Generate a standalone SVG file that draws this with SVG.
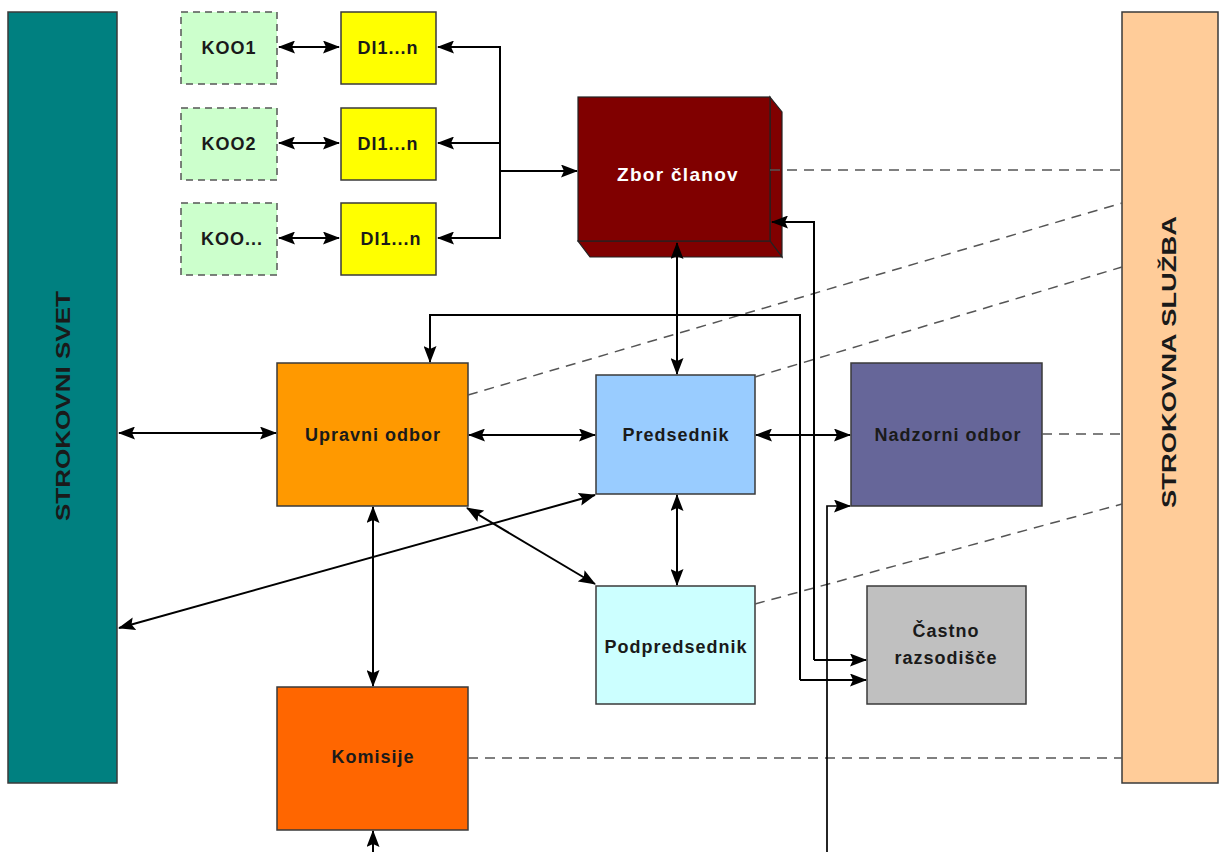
<svg xmlns="http://www.w3.org/2000/svg" width="1224" height="852" viewBox="0 0 1224 852">
<defs>
<marker id="ah" viewBox="0 0 17 13" refX="16" refY="6.5" markerWidth="17" markerHeight="13" orient="auto-start-reverse" markerUnits="userSpaceOnUse"><path d="M0,0 L17,6.5 L0,13 L3,6.5 z" fill="#000"/></marker>
</defs>
<style>
.node{stroke:#3a3a3a;stroke-width:1.5}
.lbl{font-family:"Liberation Sans",Arial,sans-serif;font-weight:bold;font-size:18px;letter-spacing:1px;fill:#1a1a1a;text-anchor:middle;dominant-baseline:central}
.vlbl{font-family:"Liberation Sans",Arial,sans-serif;font-weight:bold;font-size:21px;fill:#1a1a1a;text-anchor:middle;dominant-baseline:central}
.c{fill:none;stroke:#000;stroke-width:2}
.bi{marker-start:url(#ah);marker-end:url(#ah)}
.one{marker-end:url(#ah)}
.d{fill:none;stroke:#555;stroke-width:1.5;stroke-dasharray:10,7}
</style>
<rect width="1224" height="852" fill="#fff"/>
<g id="strokovni-svet"><rect class="node" x="8" y="12" width="109" height="771" fill="#008080"/><text class="vlbl" transform="translate(62,406) rotate(-90)" textLength="230" lengthAdjust="spacingAndGlyphs">STROKOVNI SVET</text></g>
<g id="strokovna-sluzba"><rect class="node" x="1122" y="12" width="96" height="771" fill="#FFCC99"/><text class="vlbl" transform="translate(1168,362) rotate(-90)" textLength="292" lengthAdjust="spacingAndGlyphs">STROKOVNA SLUŽBA</text></g>
<g id="koo1"><rect x="181" y="12" width="96" height="72" fill="#CCFFCC" stroke="#555" stroke-width="1.5" stroke-dasharray="7,5"/><text class="lbl" x="229" y="48">KOO1</text></g>
<g id="koo2"><rect x="181" y="108" width="96" height="72" fill="#CCFFCC" stroke="#555" stroke-width="1.5" stroke-dasharray="7,5"/><text class="lbl" x="229" y="144">KOO2</text></g>
<g id="koo3"><rect x="181" y="203" width="96" height="72" fill="#CCFFCC" stroke="#555" stroke-width="1.5" stroke-dasharray="7,5"/><text class="lbl" x="232" y="239">KOO...</text></g>
<g id="di1"><rect class="node" x="341" y="12" width="95" height="72" fill="#FFFF00"/><text class="lbl" x="388" y="48">DI1...n</text></g>
<g id="di2"><rect class="node" x="341" y="108" width="95" height="72" fill="#FFFF00"/><text class="lbl" x="388" y="144">DI1...n</text></g>
<g id="di3"><rect class="node" x="341" y="203" width="95" height="72" fill="#FFFF00"/><text class="lbl" x="391" y="239">DI1...n</text></g>
<g id="zbor-clanov">
<polygon points="770,97 782,112 782,257 770,241" fill="#800000" stroke="#222" stroke-width="1.2"/>
<polygon points="578,241 770,241 782,257 590,257" fill="#800000" stroke="#222" stroke-width="1.2"/>
<rect x="578" y="97" width="192" height="144" fill="#800000" stroke="#222" stroke-width="1.2"/>
<text class="lbl" x="678" y="174" style="fill:#fff;font-size:19px;letter-spacing:1.3px">Zbor članov</text>
</g>
<g id="upravni-odbor"><rect class="node" x="277" y="363" width="191" height="143" fill="#FF9900"/><text class="lbl" x="373" y="435">Upravni odbor</text></g>
<g id="predsednik"><rect class="node" x="596" y="375" width="159" height="119" fill="#99CCFF"/><text class="lbl" x="676" y="435">Predsednik</text></g>
<g id="nadzorni-odbor"><rect class="node" x="851" y="363" width="191" height="143" fill="#666699"/><text class="lbl" x="948" y="435">Nadzorni odbor</text></g>
<g id="podpredsednik"><rect class="node" x="596" y="586" width="159" height="118" fill="#CCFFFF"/><text class="lbl" x="676" y="647">Podpredsednik</text></g>
<g id="castno-razsodisce"><rect class="node" x="867" y="586" width="159" height="118" fill="#C0C0C0"/><text class="lbl" x="946" y="631">Častno</text><text class="lbl" x="946" y="658">razsodišče</text></g>
<g id="komisije"><rect class="node" x="277" y="687" width="191" height="143" fill="#FF6600"/><text class="lbl" x="373" y="757">Komisije</text></g>
<g id="connectors">
<path class="d" d="M770,170 H1122"/>
<path class="d" d="M468,395 L1122,203"/>
<path class="d" d="M755,377 L1122,267"/>
<path class="d" d="M1042,434 H1122"/>
<path class="d" d="M755,604 L1122,504"/>
<path class="d" d="M468,758 H1122"/>
<path class="c bi" d="M279,47 H339"/>
<path class="c bi" d="M279,143 H339"/>
<path class="c bi" d="M279,238 H339"/>
<path class="c one" d="M500,47 H438"/>
<path class="c one" d="M500,143 H438"/>
<path class="c one" d="M500,238 H438"/>
<path class="c" d="M500,46 V239"/>
<path class="c one" d="M500,171 H577"/>
<path class="c bi" d="M677,243 V374"/>
<path class="c one" d="M800,680 H866"/>
<path class="c one" d="M800,680 V315 H430 V362"/>
<path class="c one" d="M814,660 V222 H772"/>
<path class="c one" d="M814,660 H866"/>
<path class="c one" style="stroke-width:1.7" d="M827,852 V506 H850"/>
<path class="c bi" d="M119,433 H276"/>
<path class="c bi" d="M469,435 H595"/>
<path class="c bi" d="M756,435 H850"/>
<path class="c bi" d="M373,507 V686"/>
<path class="c one" d="M373,852 V831"/>
<path class="c bi" d="M677,495 V585"/>
<path class="c bi" d="M467,508 L595,584"/>
<path class="c bi" d="M595,495 L119,628"/>
</g>
</svg>
